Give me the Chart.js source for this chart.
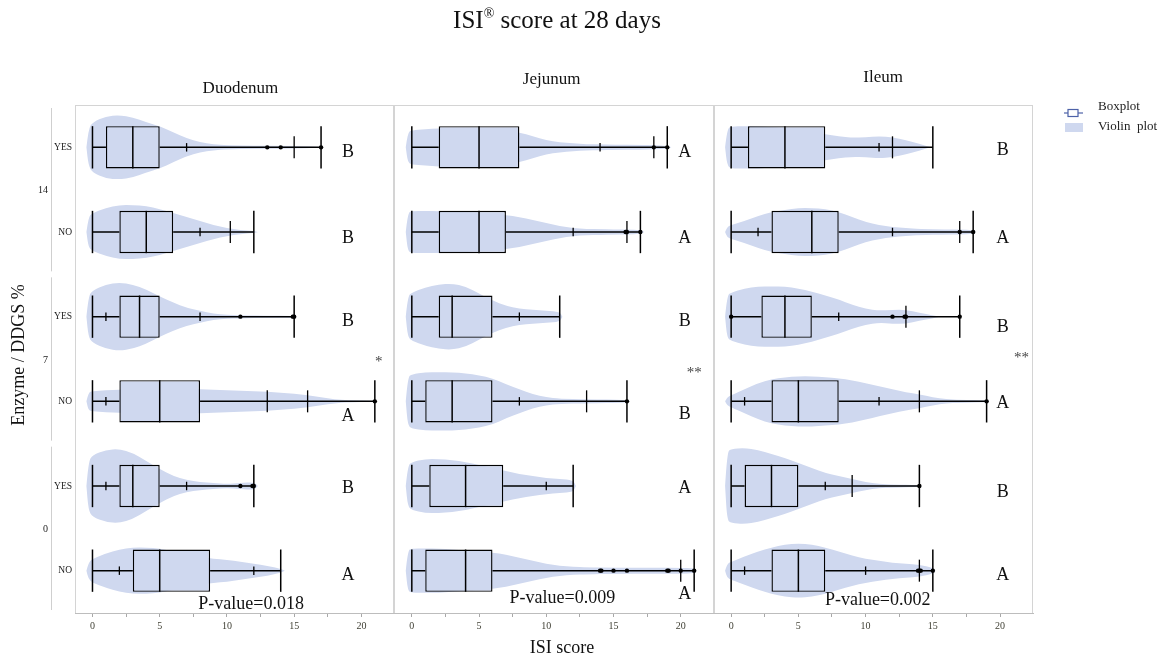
<!DOCTYPE html>
<html>
<head>
<meta charset="utf-8">
<script src="https://cdn.jsdelivr.net/npm/chart.js@4.4.0/dist/chart.umd.min.js"></script>
<style>
  html, body { margin: 0; padding: 0; background: #fff; }
  #wrap { width: 1167px; height: 661px; }
</style>
</head>
<body>
<div id="wrap"><canvas id="myChart" width="1167" height="661"></canvas></div>
<script>
// rows top to bottom, grouped by DDGS %
const rowLabels = ['YES', 'NO', 'YES', 'NO', 'YES', 'NO'];
const groupLabels = ['14', '7', '0'];
const panelNames = ['Duodenum', 'Jejunum', 'Ileum'];
const xTicks = [0, 5, 10, 15, 20];

// [min, q1, median, q3, max]
const boxDuodenum = [[0, 1, 3, 5, 17], [0, 2, 4, 6, 12], [0, 2, 3.5, 5, 15], [0, 2, 5, 8, 21], [0, 2, 3, 5, 12], [0, 3, 5, 8.75, 14]];
const boxJejunum = [[0, 2, 5, 8, 19], [0, 2, 5, 7, 17], [0, 2, 3, 6, 11], [0, 1, 3, 6, 16], [0, 1.3, 4, 6.8, 12], [0, 1, 4, 6, 21]];
const boxIleum = [[0, 1.25, 4, 7, 15], [0, 3, 6, 8, 18], [0, 2.25, 4, 6, 17], [0, 3, 5, 8, 19], [0, 1, 3, 5, 14], [0, 3, 5, 7, 15]];

// short marks on the whisker
const smallDuodenum = [[7], [8], [1, 8], [1], [1, 7], [2, 12]];
const smallJejunum = [[14], [12], [8], [8], [10], []];
const smallIleum = [[11], [2, 12], [8], [1, 11], [7], [1, 10]];

// longer marks on the whisker
const midDuodenum = [[15], [10.25], [], [13, 16], [], []];
const midJejunum = [[18], [16], [], [13], [], [20]];
const midIleum = [[12], [17], [13], [14], [9], [14]];

// outlying points
const dotsDuodenum = [[13, 14, 17], [], [11, 14.9, 15], [21], [11, 11.9, 12], []];
const dotsJejunum = [[18, 19], [15.9, 16, 17], [], [16], [], [14, 14.1, 15, 16, 19, 19.1, 20, 21]];
const dotsIleum = [[], [17, 18], [0, 12, 13, 12.9, 17], [19], [14], [13.9, 14, 14.1, 15]];

// violin outline: [ISI score, density]
const violinDuodenum = [
  [[-0.45, 0], [-0.3, 18], [0, 25], [1, 31], [2, 32], [3, 30], [4, 25], [5, 21], [6, 15], [7, 9], [8, 5], [9, 3], [10, 2], [12, 1.5], [14, 1.5], [16, 1], [17.2, 0]],
  [[-0.45, 0], [-0.3, 15], [0, 19], [1, 24], [2, 27], [3, 27], [4, 26], [5, 23], [6, 19], [7, 15], [8, 11], [9, 7], [10, 4], [11, 2], [12, 1], [12.3, 0]],
  [[-0.45, 0], [-0.3, 20], [0, 26], [1, 32], [2, 34], [3, 32], [4, 27], [5, 20], [6, 14], [7, 9], [8, 6], [9, 3], [10, 2], [11, 1.5], [13, 1], [15, 1], [15.2, 0]],
  [[-0.45, 0], [-0.3, 9], [0, 10], [1, 11], [2, 11.5], [3, 12], [4, 12], [5, 12.5], [6, 12.5], [7, 12.5], [8, 12], [9, 11.5], [10, 11], [11, 10.5], [12, 10], [13, 9.5], [14, 8.5], [15, 7.5], [16, 6], [17, 4], [18, 2], [19, 1], [21, 0.5], [21.1, 0]],
  [[-0.45, 0], [-0.3, 24], [0, 31], [1, 36], [2, 37], [3, 33], [4, 25], [5, 17], [6, 10], [7, 6], [8, 4], [9, 3], [10, 2], [11, 3], [12, 4], [12.3, 0]],
  [[-0.45, 0], [-0.3, 8], [0, 12], [1, 17], [2, 21], [3, 23], [4, 23], [5, 22], [6, 19], [7, 16], [8, 14], [9, 12], [10, 11], [11, 9], [12, 7], [13, 5], [14, 2], [14.3, 0]]
];
const violinJejunum = [
  [[-0.45, 0], [-0.3, 15], [0, 17], [1, 18], [2, 19], [3, 19], [4, 19], [5, 18], [6, 17], [7, 16], [8, 15], [9, 11], [10, 7], [11, 5], [12, 4], [13, 3], [14, 3], [15, 2.5], [17, 2.5], [18, 2], [19, 1.5], [19.3, 0]],
  [[-0.45, 0], [-0.3, 19], [0, 21], [1, 21], [2, 21], [3, 20], [4, 20], [5, 19], [6, 18], [7, 17], [8, 15], [9, 12], [10, 9], [11, 6], [12, 4], [13, 3], [14, 3], [15, 2.5], [16, 2.5], [17, 2], [17.3, 0]],
  [[-0.45, 0], [-0.3, 20], [0, 24], [1, 29], [2, 32], [3, 33], [4, 30], [5, 23], [6, 16], [7, 11], [8, 8], [9, 7], [10, 6], [11, 5], [11.2, 0]],
  [[-0.45, 0], [-0.3, 24], [0, 27], [1, 29], [2, 29], [3, 29], [4, 28], [5, 26], [6, 23], [7, 17], [8, 12], [9, 7], [10, 4], [11, 2.5], [13, 2], [16, 1.5], [16.2, 0]],
  [[-0.45, 0], [-0.3, 20], [0, 24], [1, 27], [2, 27], [3, 26], [4, 24], [5, 21], [6, 18], [7, 15], [8, 12], [9, 10], [10, 8], [11, 7], [12, 6], [12.2, 0]],
  [[-0.45, 0], [-0.3, 20], [0, 22], [1, 22], [2, 22], [3, 21], [4, 20], [5, 19], [6, 18], [7, 16], [8, 13], [9, 10], [10, 7], [11, 5], [12, 4], [13, 3.5], [15, 3], [18, 3], [20, 3], [21, 2.5], [21.2, 0]]
];
const violinIleum = [
  [[-0.45, 0], [-0.3, 18], [0, 21], [1, 21], [2, 21], [3, 20], [4, 19], [5, 17], [6, 15], [7, 13], [8, 11], [9, 9.5], [10, 10], [11, 11], [12, 10], [13, 7], [14, 3.5], [14.8, 0]],
  [[-0.45, 0], [-0.3, 5], [0, 7], [1, 11], [2, 16], [3, 20], [4, 22], [5, 24], [6, 24], [7, 23], [8, 20], [9, 15], [10, 10], [11, 7], [12, 5], [13, 4], [14, 3], [16, 2.5], [17, 2.5], [18, 2], [18.2, 0]],
  [[-0.45, 0], [-0.3, 21], [0, 24], [1, 28], [2, 30], [3, 30], [4, 30], [5, 28], [6, 25], [7, 21], [8, 17], [9, 12], [10, 8], [11, 6], [12, 7], [13, 7], [14, 4], [15, 1.5], [15.5, 0]],
  [[-0.45, 0], [-0.3, 4], [0, 6], [1, 12], [2, 18], [3, 22], [4, 24], [5, 25], [6, 25], [7, 24], [8, 23], [9, 21], [10, 18], [11, 15], [12, 12], [13, 9], [14, 7], [15, 4], [16, 2], [17, 1.5], [19, 1], [19.2, 0]],
  [[-0.45, 0], [-0.3, 34], [0, 37], [1, 38], [2, 36], [3, 32], [4, 28], [5, 23], [6, 18], [7, 13], [8, 10], [9, 7], [10, 4], [11, 2], [12, 1.5], [14, 1], [14.2, 0]],
  [[-0.45, 0], [-0.3, 7], [0, 9], [1, 14], [2, 19], [3, 23], [4, 26], [5, 27], [6, 26], [7, 23], [8, 19], [9, 15], [10, 12], [11, 10], [12, 8], [13, 7], [14, 6], [15, 3], [15.2, 0]]
];

const lettersDuodenum = ['B', 'B', 'B', 'A', 'B', 'A'];
const lettersJejunum = ['A', 'A', 'B', 'B', 'A', 'A'];
const lettersIleum = ['B', 'A', 'B', 'A', 'B', 'A'];
const sigMarks = ['*', '**', '**'];
const pValues = ['0.018', '0.009', '0.002'];

const violinColor = 'rgb(207, 216, 239)';
const serif = '"Liberation Serif", "Times New Roman", serif';

const panels = [
  {axis: 'x1', box: boxDuodenum, small: smallDuodenum, mid: midDuodenum, dots: dotsDuodenum, violin: violinDuodenum, letters: lettersDuodenum},
  {axis: 'x2', box: boxJejunum, small: smallJejunum, mid: midJejunum, dots: dotsJejunum, violin: violinJejunum, letters: lettersJejunum},
  {axis: 'x3', box: boxIleum, small: smallIleum, mid: midIleum, dots: dotsIleum, violin: violinIleum, letters: lettersIleum}
];

// where the annotations sit (axis units for x, pixels for y)
const panelLayout = [
  {titleX: 11.0, titleY: 89, letterX: 19.0, letterDy: [5, 6, 5, 15, 2, 5], sigX: 21.3, sigY: 362, pX: 11.8, pY: 604},
  {titleX: 10.4, titleY: 80, letterX: 20.3, letterDy: [5, 6, 5, 13, 2, 24], sigX: 21.0, sigY: 373, pX: 11.2, pY: 598},
  {titleX: 11.3, titleY: 78, letterX: 20.2, letterDy: [3, 6, 11, 2, 6, 5], sigX: 21.6, sigY: 358, pX: 10.9, pY: 600}
];

function text(ctx, str, x, y, size, align, color) {
  ctx.font = size + 'px ' + serif;
  ctx.fillStyle = color || '#111';
  ctx.textAlign = align || 'center';
  ctx.textBaseline = 'middle';
  ctx.fillText(str, x, y);
}

function vline(ctx, x, y1, y2) {
  ctx.beginPath();
  ctx.moveTo(x, y1);
  ctx.lineTo(x, y2);
  ctx.stroke();
}

function rowHeight(chart) {
  const y = chart.scales.y;
  return y.getPixelForValue(1) - y.getPixelForValue(0);
}

const violinPlugin = {
  id: 'violins',
  beforeDatasetsDraw(chart) {
    const ctx = chart.ctx;
    const yScale = chart.scales.y;
    const k = rowHeight(chart) * 0.45 / 38;
    ctx.save();
    // panel frames
    ctx.strokeStyle = '#d4d4d4';
    ctx.lineWidth = 1;
    const top = chart.chartArea.top, bottom = chart.chartArea.bottom;
    ctx.beginPath();
    ctx.moveTo(chart.chartArea.left, top + 0.5);
    ctx.lineTo(chart.chartArea.right, top + 0.5);
    ctx.stroke();
    panels.forEach(p => {
      const s = chart.scales[p.axis];
      vline(ctx, Math.round(s.left) + 0.5, top, bottom);
      vline(ctx, Math.round(s.right) - 0.5, top, bottom);
    });
    ctx.fillStyle = violinColor;
    panels.forEach(p => {
      const xs = chart.scales[p.axis];
      p.violin.forEach((pts, i) => {
        const cy = yScale.getPixelForValue(i);
        const up = pts.map(d => [xs.getPixelForValue(d[0]), cy - d[1] * k]);
        const down = pts.slice().reverse().map(d => [xs.getPixelForValue(d[0]), cy + d[1] * k]);
        const all = up.concat(down);
        ctx.beginPath();
        ctx.moveTo(all[0][0], all[0][1]);
        for (let j = 1; j < all.length - 1; j++) {
          const mx = (all[j][0] + all[j + 1][0]) / 2;
          const my = (all[j][1] + all[j + 1][1]) / 2;
          ctx.quadraticCurveTo(all[j][0], all[j][1], mx, my);
        }
        ctx.lineTo(all[all.length - 1][0], all[all.length - 1][1]);
        ctx.closePath();
        ctx.fill();
      });
    });
    ctx.restore();
  },
  afterDatasetsDraw(chart) {
    const ctx = chart.ctx;
    const yScale = chart.scales.y;
    const rh = rowHeight(chart);
    const hb = rh * 0.25;
    ctx.save();
    ctx.strokeStyle = '#000';
    ctx.fillStyle = '#000';
    panels.forEach(p => {
      const xs = chart.scales[p.axis];
      p.box.forEach((b, i) => {
        const cy = yScale.getPixelForValue(i);
        const px = b.map(v => xs.getPixelForValue(v));
        ctx.lineWidth = 1.5;
        ctx.beginPath();
        ctx.moveTo(px[0], cy); ctx.lineTo(px[1], cy);
        ctx.moveTo(px[3], cy); ctx.lineTo(px[4], cy);
        ctx.stroke();
        vline(ctx, px[0], cy - hb, cy + hb);
        vline(ctx, px[4], cy - hb, cy + hb);
        vline(ctx, px[2], cy - hb, cy + hb);
        ctx.lineWidth = 1.3;
        p.small[i].forEach(v => vline(ctx, xs.getPixelForValue(v), cy - rh * 0.05, cy + rh * 0.05));
        p.mid[i].forEach(v => vline(ctx, xs.getPixelForValue(v), cy - rh * 0.13, cy + rh * 0.13));
        p.dots[i].forEach(v => {
          ctx.beginPath();
          ctx.arc(xs.getPixelForValue(v), cy, 2.2, 0, Math.PI * 2);
          ctx.fill();
        });
      });
    });
    ctx.restore();
  },
  afterDraw(chart) {
    const ctx = chart.ctx;
    const yScale = chart.scales.y;
    const rh = rowHeight(chart);
    ctx.save();

    // title with superscript mark
    ctx.font = '25px ' + serif;
    const w1 = ctx.measureText('ISI').width;
    const w3 = ctx.measureText(' score at 28 days').width;
    ctx.font = '14px ' + serif;
    const w2 = ctx.measureText('\u00AE').width;
    let tx = 557 - (w1 + w2 + w3) / 2;
    text(ctx, 'ISI', tx, 21, 25, 'left');
    text(ctx, '\u00AE', tx + w1, 14, 14, 'left');
    text(ctx, ' score at 28 days', tx + w1 + w2, 21, 25, 'left');

    panels.forEach((p, k) => {
      const xs = chart.scales[p.axis];
      const L = panelLayout[k];
      text(ctx, panelNames[k], xs.getPixelForValue(L.titleX), L.titleY, 17);
      p.letters.forEach((l, i) => {
        text(ctx, l, xs.getPixelForValue(L.letterX), yScale.getPixelForValue(i) + L.letterDy[i], 18);
      });
      text(ctx, sigMarks[k], xs.getPixelForValue(L.sigX), L.sigY, 15, 'center', '#444');
      text(ctx, 'P-value=' + pValues[k], xs.getPixelForValue(L.pX), L.pY, 18);
    });

    // y axis categories and groups
    rowLabels.forEach((l, i) => text(ctx, l, 72, yScale.getPixelForValue(i), 9.5, 'right', '#222'));
    ctx.strokeStyle = '#cfcfcf';
    ctx.lineWidth = 1;
    groupLabels.forEach((g, j) => {
      const yTop = yScale.getPixelForValue(2 * j) - rh / 2 + 3;
      const yBot = yScale.getPixelForValue(2 * j + 1) + rh / 2 - 3;
      vline(ctx, 51.5, yTop, yBot);
      text(ctx, g, 48, (yTop + yBot) / 2 + 1, 10, 'right', '#222');
    });

    // axis titles
    text(ctx, 'ISI score', 562, 648, 18);
    ctx.save();
    ctx.translate(19, 355);
    ctx.rotate(-Math.PI / 2);
    text(ctx, 'Enzyme / DDGS %', 0, 0, 18);
    ctx.restore();

    // legend
    ctx.strokeStyle = '#4d62a8';
    ctx.lineWidth = 1.2;
    ctx.beginPath();
    ctx.moveTo(1064, 113); ctx.lineTo(1083, 113);
    ctx.stroke();
    ctx.fillStyle = '#fff';
    ctx.fillRect(1068, 109.5, 10, 7);
    ctx.strokeRect(1068, 109.5, 10, 7);
    text(ctx, 'Boxplot', 1098, 107, 13, 'left', '#222');
    ctx.fillStyle = violinColor;
    ctx.fillRect(1065, 123, 18, 9);
    text(ctx, 'Violin  plot', 1098, 127, 13, 'left', '#222');

    ctx.restore();
  }
};

function xAxis() {
  return {
    type: 'linear',
    position: 'bottom',
    stack: 'panels',
    stackWeight: 1,
    min: -1.3,
    max: 22.45,
    grid: {display: true, drawOnChartArea: false, drawTicks: true, tickLength: 4, color: '#a8a8a8'},
    border: {display: true, color: '#bdbdbd', width: 1},
    ticks: {
      stepSize: 2.5,
      includeBounds: false,
      autoSkip: false,
      maxRotation: 0,
      padding: 3,
      color: '#3f3f33',
      font: {family: serif, size: 10},
      callback: v => xTicks.includes(v) ? String(v) : ''
    },
    afterFit: s => { s.height = 28; }
  };
}

const ctx = document.getElementById('myChart').getContext('2d');
const myChart = new Chart(ctx, {
  type: 'bar',
  data: {
    labels: rowLabels,
    datasets: panels.map((p, k) => ({
      label: panelNames[k],
      xAxisID: p.axis,
      yAxisID: 'y',
      data: p.box.map(b => [b[1], b[3]]),
      backgroundColor: violinColor,
      borderColor: '#000',
      borderWidth: 1.4,
      borderSkipped: false,
      barPercentage: 0.5,
      categoryPercentage: 1.0,
      grouped: false
    }))
  },
  options: {
    indexAxis: 'y',
    responsive: false,
    animation: false,
    layout: {padding: {left: 75, right: 134, top: 105, bottom: 20}},
    scales: {
      y: {type: 'category', display: false, offset: true},
      x1: xAxis(),
      x2: xAxis(),
      x3: xAxis()
    },
    plugins: {
      legend: {display: false},
      tooltip: {enabled: false},
      title: {display: false}
    }
  },
  plugins: [violinPlugin]
});
</script>
</body>
</html>
